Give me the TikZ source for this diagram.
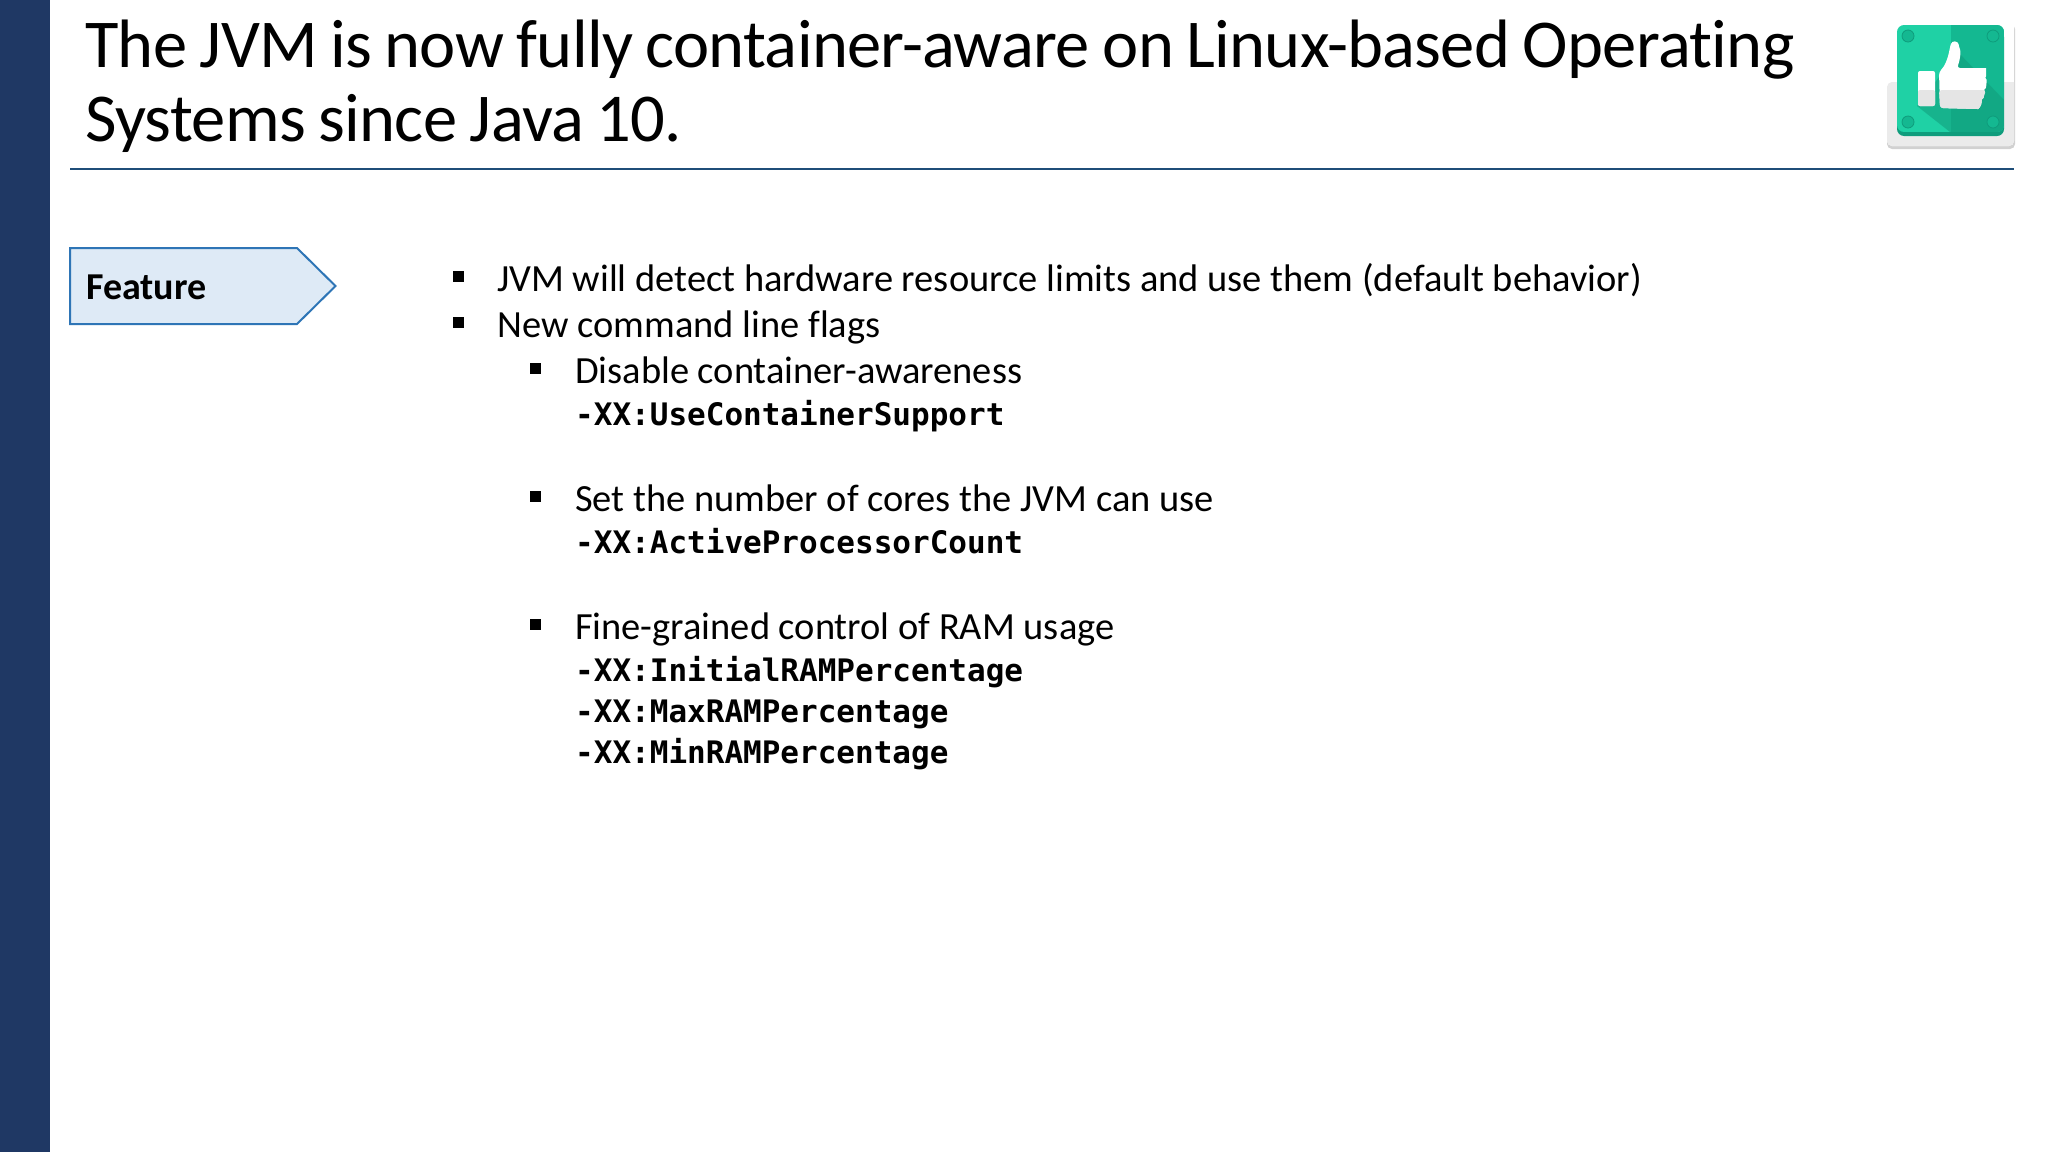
\documentclass[tikz,border=0pt]{standalone}
\usepackage{fontspec}
\setmainfont[Ligatures=CommonOff]{Carlito}
\newfontfamily\titlefont[Ligatures=CommonOff,LetterSpace=-1.0,WordSpace=0.85]{Carlito}
\newfontfamily\codefont{DejaVu Sans Mono}
\definecolor{sidebar}{HTML}{1F3864}
\definecolor{rulecol}{HTML}{1F4E79}
\definecolor{tagfill}{HTML}{DEEAF6}
\definecolor{tagline}{HTML}{2E75B6}
\definecolor{greenL}{HTML}{1FD1A5}
\definecolor{greenD}{HTML}{14B891}
\definecolor{greenS}{HTML}{11A583}
\definecolor{greenB}{HTML}{0F9C7C}
\tikzset{
  x=1pt,y=-1pt,
  titletext/.style={anchor=base west,inner sep=0pt,font=\fontsize{68.5}{68.5}\titlefont},
  bodytext/.style={anchor=base west,inner sep=0pt,font=\fontsize{38.45}{38.45}\selectfont},
  codetext/.style={anchor=base west,inner sep=0pt,font=\fontsize{31}{31}\codefont\bfseries},
  bulletmark/.style={fill=black,draw=none,minimum size=11pt,inner sep=0pt,rectangle},
  screw/.style={circle,fill=greenD,draw=greenB,line width=0.8pt,minimum size=12pt,inner sep=0pt},
}
\begin{document}
\begin{tikzpicture}
\useasboundingbox (0,0) rectangle (2048,1152);
\fill[white] (0,0) rectangle (2048,1152);
\fill[sidebar] (0,0) rectangle (50,1152);
\node[titletext] (t1) at (85,67.5) {The JVM is now fully container-aware on Linux-based Operating};
\node[titletext] (t2) at (85,141.5) {Systems since Java 10.};
\draw[rulecol,line width=2pt] (70,169) -- (2014,169);
% feature tag
\draw[tagline,fill=tagfill,line width=2pt] (70,248) -- (297,248) -- (335.5,286) -- (297,324) -- (70,324) -- cycle;
\node[anchor=base west,inner sep=0pt,font=\fontsize{38}{38}\selectfont\bfseries] (feature) at (86,299) {Feature};
% bullets
\node[bulletmark] (b1) at (458,276.5) {};
\node[bodytext] (l1) at (497,291.3) {JVM will detect hardware resource limits and use them (default behavior)};
\node[bulletmark] (b2) at (458,322.5) {};
\node[bodytext] (l2) at (497.5,337.3) {New command line flags};
\node[bulletmark] (b3) at (535,368.5) {};
\node[bodytext] (l3) at (575,383.3) {Disable container-awareness};
\node[codetext] (c1) at (575,425) {-XX:UseContainerSupport};
\node[bulletmark] (b4) at (535,496.5) {};
\node[bodytext] (l4) at (575,511.3) {Set the number of cores the JVM can use};
\node[codetext] (c2) at (575,553) {-XX:ActiveProcessorCount};
\node[bulletmark] (b5) at (535,624.5) {};
\node[bodytext] (l5) at (575,639.3) {Fine-grained control of RAM usage};
\node[codetext] (c3) at (575,681) {-XX:InitialRAMPercentage};
\node[codetext] (c4) at (575,722) {-XX:MaxRAMPercentage};
\node[codetext] (c5) at (575,763) {-XX:MinRAMPercentage};
% icon
\fill[black!18,rounded corners=5pt] (1887,24) rectangle (2015,149);
\fill[white,rounded corners=5pt] (1887,19) rectangle (2014,146);
\fill[black!8] (1887,82) -- (2014,82) -- (2014,140) [rounded corners=5pt] -- (2014,146) -- (1887,146) -- cycle;
\fill[greenB,rounded corners=7pt] (1897,30) rectangle (2004,136);
\begin{scope}
\clip[rounded corners=7pt] (1897,25) rectangle (2004,132);
\fill[greenL] (1897,25) rectangle (2004,132);
\fill[greenD] (1951,25) rectangle (2004,132);
\fill[greenD!85!black,opacity=.55] (1958,52) -- (2004,100) -- (2004,132) -- (1950,132) -- (1917,106) -- cycle;
\end{scope}
\node[screw] (s1) at (1908,36) {};
\node[screw] (s2) at (1993,36) {};
\node[screw] (s3) at (1908,122) {};
\node[screw] (s4) at (1993,122) {};
\fill[white,rounded corners=2pt] (1918,71) rectangle (1935,106);
\fill[white,rounded corners=3pt] (1940,108) -- (1939,72) .. controls (1945,66) and (1948,58) .. (1950,47) .. controls (1952,40) and (1958,41) .. (1959,47) .. controls (1961,52) and (1960,60) .. (1957,68) -- (1983,68) .. controls (1986,68) and (1986,76) .. (1984,78) .. controls (1987,80) and (1986,88) .. (1983,89) .. controls (1985,93) and (1983,98) .. (1981,99) .. controls (1982,104) and (1979,109) .. (1975,109) -- cycle;
\fill[black!10,rounded corners=2pt] (1918,90) rectangle (1935,106);
\fill[black!10,rounded corners=3pt] (1939,90) -- (1986,90) .. controls (1985,93) and (1983,98) .. (1981,99) .. controls (1982,104) and (1979,109) .. (1975,109) -- (1940,108) -- cycle;
\end{tikzpicture}
\end{document}
